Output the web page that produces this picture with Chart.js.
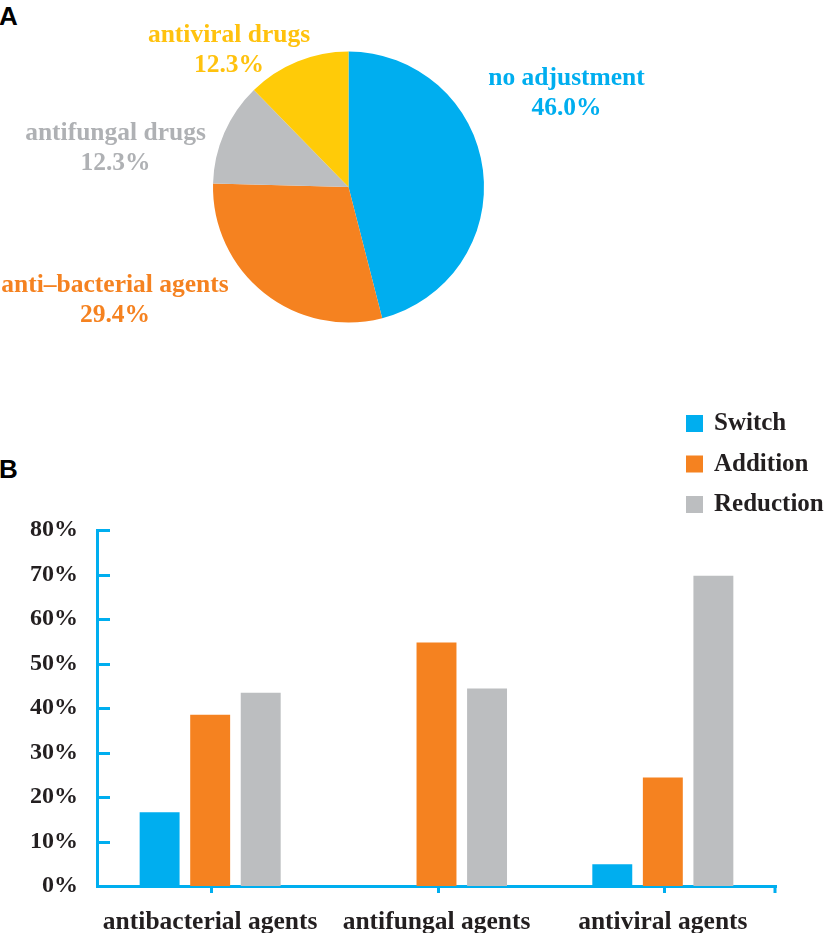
<!DOCTYPE html>
<html>
<head>
    <title>Antimicrobial adjustment</title>
    <script src="https://cdn.jsdelivr.net/npm/chart.js"></script>
    <style>
        body { margin: 0; background: #fff; }
        #wrap { position: relative; width: 827px; height: 933px; overflow: hidden; }
        .panel { position: absolute; left: -1px; font: bold 26px 'Liberation Sans', Arial, sans-serif; line-height: 26px; color: #000; }
        canvas { position: absolute; left: 0; }
    </style>
</head>
<body>
<div id="wrap">
    <div class="panel" style="top:3px">A</div>
    <div class="panel" style="top:456px">B</div>
    <canvas id="pieChart" width="827" height="375" style="top:0"></canvas>
    <canvas id="barChart" width="827" height="553" style="top:380px"></canvas>
</div>

<script>
    // panel A
    var pieLabels = ['no adjustment', 'anti\u2013bacterial agents', 'antifungal drugs', 'antiviral drugs'];
    var pieValues = [46.0, 29.4, 12.3, 12.3];

    // panel B
    var categories = ['antibacterial agents', 'antifungal agents', 'antiviral agents'];
    var seriesNames = ['Switch', 'Addition', 'Reduction'];
    var switchValues = [16.6, 0, 4.9];
    var additionValues = [38.5, 54.7, 24.4];
    var reductionValues = [43.4, 44.4, 69.7];
    var yMin = 0, yMax = 80, yStep = 10;

    var blue = '#00AEEF', orange = '#F58220', grey = '#BCBEC0', yellow = '#FFCB08';
    var ink = '#231F20';
    var serif = "'Liberation Serif', 'Times New Roman', serif";

    Chart.defaults.font.family = serif;
    Chart.defaults.font.weight = 'bold';
    Chart.defaults.color = ink;

    // label offsets from the pie centre (first line baseline)
    var pieLabelOffsets = [[218, -102], [-233.5, 105], [-233, -47], [-119.5, -145]];
    var pieTextColors = [blue, orange, '#AFB1B4', '#FFC20E'];

    var pieLabelPlugin = {
        id: 'pieLabels',
        afterDraw: function(chart) {
            var ctx = chart.ctx;
            var arc = chart.getDatasetMeta(0).data[0];
            ctx.save();
            ctx.font = 'bold 25.5px ' + serif;
            ctx.textAlign = 'center';
            ctx.textBaseline = 'alphabetic';
            chart.data.labels.forEach(function(label, i) {
                var off = pieLabelOffsets[i];
                var cx = arc.x + off[0], cy = arc.y + off[1];
                ctx.fillStyle = pieTextColors[i];
                ctx.fillText(label, cx, cy);
                ctx.fillText(chart.data.datasets[0].data[i].toFixed(1) + '%', cx, cy + 29.5);
            });
            ctx.restore();
        }
    };

    new Chart(document.getElementById('pieChart'), {
        type: 'pie',
        data: {
            labels: pieLabels,
            datasets: [{
                data: pieValues,
                backgroundColor: [blue, orange, grey, yellow],
                borderWidth: 0
            }]
        },
        options: {
            responsive: false,
            animation: false,
            layout: { padding: { top: 51.5, bottom: 52.5, left: 213, right: 343 } },
            plugins: { legend: { display: false }, tooltip: { enabled: false } }
        },
        plugins: [pieLabelPlugin]
    });

    // inward y ticks, downward x ticks, and the side legend
    var axisPlugin = {
        id: 'axisMarks',
        afterDraw: function(chart) {
            var ctx = chart.ctx, area = chart.chartArea;
            var x = chart.scales.x, y = chart.scales.y;
            ctx.save();
            ctx.strokeStyle = blue;
            ctx.lineWidth = 3;
            ctx.beginPath();
            y.ticks.forEach(function(t) {
                if (t.value <= yMin) return;
                var py = Math.round(y.getPixelForValue(t.value)) + 0.5;
                ctx.moveTo(area.left, py);
                ctx.lineTo(area.left + 13, py);
            });
            chart.data.labels.forEach(function(l, i) {
                var px = Math.round(x.getPixelForValue(i)) + 1.5;
                ctx.moveTo(px, area.bottom);
                ctx.lineTo(px, area.bottom + 7);
            });
            ctx.moveTo(area.right - 1, area.bottom);
            ctx.lineTo(area.right - 1, area.bottom + 7);
            ctx.stroke();

            // legend
            ctx.font = 'bold 25px ' + serif;
            ctx.textAlign = 'left';
            ctx.textBaseline = 'middle';
            chart.data.datasets.forEach(function(ds, i) {
                var top = 35 + i * 40.5;
                ctx.fillStyle = ds.backgroundColor;
                ctx.fillRect(686, top, 17, 17);
                ctx.fillStyle = ink;
                ctx.fillText(ds.label, 714, top + 9);
            });
            ctx.restore();
        }
    };

    var seriesValues = [switchValues, additionValues, reductionValues];
    var seriesColors = [blue, orange, grey];

    new Chart(document.getElementById('barChart'), {
        type: 'bar',
        data: {
            labels: categories,
            datasets: seriesNames.map(function(name, i) {
                return {
                    label: name,
                    data: seriesValues[i],
                    backgroundColor: seriesColors[i],
                    borderWidth: 0,
                    barPercentage: 0.79,
                    categoryPercentage: 0.67
                };
            })
        },
        options: {
            responsive: false,
            animation: false,
            layout: { padding: { top: 150, right: 51, left: 0, bottom: 0 } },
            plugins: { legend: { display: false }, tooltip: { enabled: false } },
            scales: {
                x: {
                    grid: { display: false, drawTicks: false },
                    border: { display: true, color: blue, width: 3 },
                    ticks: { font: { size: 25.5 }, color: ink, padding: 21, maxRotation: 0, autoSkip: false },
                    afterFit: function(s) { s.height = 47; }
                },
                y: {
                    min: yMin,
                    max: yMax,
                    grid: { display: false, drawTicks: false },
                    border: { display: true, color: blue, width: 3 },
                    ticks: {
                        stepSize: yStep,
                        font: { size: 24 },
                        color: ink,
                        padding: 19,
                        callback: function(v) { return v + '%'; }
                    },
                    afterFit: function(s) { s.width = 97; }
                }
            }
        },
        plugins: [axisPlugin]
    });
</script>
</body>
</html>
